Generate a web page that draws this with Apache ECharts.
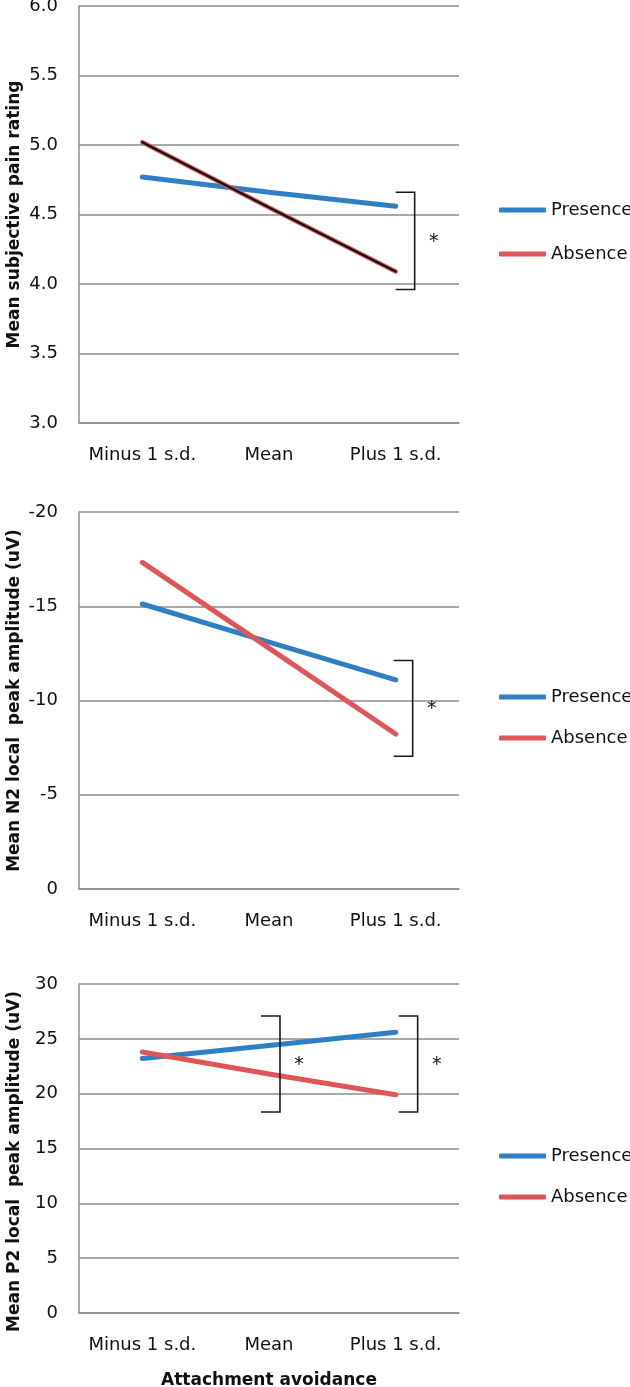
<!DOCTYPE html>
<html><head><meta charset="utf-8">
<script src="https://cdn.jsdelivr.net/npm/echarts@6/dist/echarts.min.js"></script>
<style>html,body{margin:0;padding:0;background:#fff}#c{width:630px;height:1387px}</style>
</head><body><div id="c"></div>
<script>
// ---- data ----
const categories = ['Minus 1 s.d.', 'Mean', 'Plus 1 s.d.'];
const seriesNames = ['Presence', 'Absence'];
const painPresence = [4.77, 4.66, 4.56];
const painAbsence = [5.02, 4.55, 4.09];
const n2Presence = [-15.12, -13.1, -11.09];
const n2Absence = [-17.33, -12.78, -8.22];
const p2Presence = [23.2, 24.4, 25.6];
const p2Absence = [23.8, 21.8, 19.9];
// significance brackets: [category index, top value, bottom value]
const painBrackets = [[2, 4.66, 3.96]];
const n2Brackets = [[2, -12.12, -7.04]];
const p2Brackets = [[1, 27.08, 18.33], [2, 27.08, 18.33]];
const yTitles = ['Mean subjective pain rating', 'Mean N2 local  peak amplitude (uV)', 'Mean P2 local  peak amplitude (uV)'];
const xTitle = 'Attachment avoidance';

// ---- style ----
const FONT = 'DejaVu Sans';
const BLUE = '#2F7FC2';
const RED = '#E05558';
const GRIDC = '#8C8C8C';
const bracketOffsets = [[0], [-2], [-8, 3]];
const yNamePadding = [[0, 0, 0, 0], [0, 0, 0, 0], [0, 26, 0, 0]];

const grids = [
  {left: 79, width: 380, top: 6, height: 417, outerBoundsMode: 'none', containLabel: false},
  {left: 79, width: 380, top: 512, height: 377, outerBoundsMode: 'none', containLabel: false},
  {left: 79, width: 380, top: 984, height: 329, outerBoundsMode: 'none', containLabel: false}
];
const yCfg = [
  {min: 3, max: 6, interval: 0.5, inverse: false, fmt: v => v.toFixed(1)},
  {min: -20, max: 0, interval: 5, inverse: true, fmt: v => String(v)},
  {min: 0, max: 30, interval: 5, inverse: false, fmt: v => String(v)}
];
const legendTops = [[195, 24], [682, 21], [1141, 21]];

const xAxes = grids.map((g, i) => ({
  type: 'category', gridIndex: i, data: categories, boundaryGap: true,
  axisLine: {show: true, lineStyle: {color: GRIDC, width: 1.5}},
  axisTick: {show: false},
  axisLabel: {fontFamily: FONT, fontSize: 18, color: '#111', margin: 23, interval: 0, hideOverlap: false},
  name: i === 2 ? xTitle : '', nameLocation: 'middle', nameGap: 59, nameMoveOverlap: false,
  nameTextStyle: {fontFamily: FONT, fontSize: 17, fontWeight: 'bold', color: '#111'}
}));
const yAxes = grids.map((g, i) => ({
  type: 'value', gridIndex: i, min: yCfg[i].min, max: yCfg[i].max, interval: yCfg[i].interval,
  inverse: yCfg[i].inverse,
  axisLine: {show: true, lineStyle: {color: GRIDC, width: 1.5}},
  axisTick: {show: false},
  splitLine: {show: true, lineStyle: {color: GRIDC, width: 1.5}},
  axisLabel: {fontFamily: FONT, fontSize: 18, color: '#111', margin: 21, formatter: yCfg[i].fmt},
  name: yTitles[i], nameLocation: 'middle', nameRotate: 90, nameGap: 56, nameMoveOverlap: false,
  nameTextStyle: {fontFamily: FONT, fontSize: 17, fontWeight: 'bold', color: '#111', padding: yNamePadding[i]}
}));

function lineSeries(name, data, i, color, width, z) {
  return {
    type: 'line', name: name, data: data, xAxisIndex: i, yAxisIndex: i,
    symbol: 'none', z: z, color: color,
    lineStyle: {color: color, width: width, cap: 'round'}
  };
}
function bracketSeries(i, data, offs) {
  return {
    type: 'custom', xAxisIndex: i, yAxisIndex: i, data: data, silent: true, z: 5,
    encode: {x: 0, y: [1, 2]},
    renderItem: function (params, api) {
      const a = api.coord([api.value(0), api.value(1)]);
      const b = api.coord([api.value(0), api.value(2)]);
      const x0 = a[0] + offs[params.dataIndex];
      const x1 = x0 + 19;
      return {type: 'group', children: [
        {type: 'polyline', shape: {points: [[x0, a[1]], [x1, a[1]], [x1, b[1]], [x0, b[1]]]},
         style: {stroke: '#1a1a1a', lineWidth: 1.6, fill: 'none'}},
        {type: 'text', style: {text: '*', x: x1 + 19, y: (a[1] + b[1]) / 2 + 1,
         align: 'center', verticalAlign: 'middle', fontFamily: FONT, fontSize: 19, fill: '#111'}}
      ]};
    }
  };
}

const series = [
  lineSeries('Presence', painPresence, 0, BLUE, 5, 2),
  lineSeries('Absence', painAbsence, 0, RED, 4.5, 3),
  {type: 'line', name: 'AbsenceCore', data: painAbsence, xAxisIndex: 0, yAxisIndex: 0, symbol: 'none', z: 4,
   lineStyle: {color: '#111', width: 2.2, cap: 'round'}},
  lineSeries('Presence', n2Presence, 1, BLUE, 5, 2),
  lineSeries('Absence', n2Absence, 1, RED, 5, 3),
  lineSeries('Presence', p2Presence, 2, BLUE, 5, 2),
  lineSeries('Absence', p2Absence, 2, RED, 5, 3),
  bracketSeries(0, painBrackets, bracketOffsets[0]),
  bracketSeries(1, n2Brackets, bracketOffsets[1]),
  bracketSeries(2, p2Brackets, bracketOffsets[2])
];

const legends = legendTops.map(t => ({
  data: seriesNames.map(n => ({name: n, icon: 'roundRect'})),
  orient: 'vertical', left: 494, top: t[0], itemGap: t[1],
  itemWidth: 47, itemHeight: 5, itemStyle: {borderWidth: 0},
  textStyle: {fontFamily: FONT, fontSize: 18, color: '#111', lineHeight: 20},
  selectedMode: false
}));

const chart = echarts.init(document.getElementById('c'), null, {renderer: 'canvas'});
chart.setOption({
  animation: false,
  backgroundColor: '#fff',
  grid: grids,
  xAxis: xAxes,
  yAxis: yAxes,
  legend: legends,
  series: series
});
</script></body></html>
